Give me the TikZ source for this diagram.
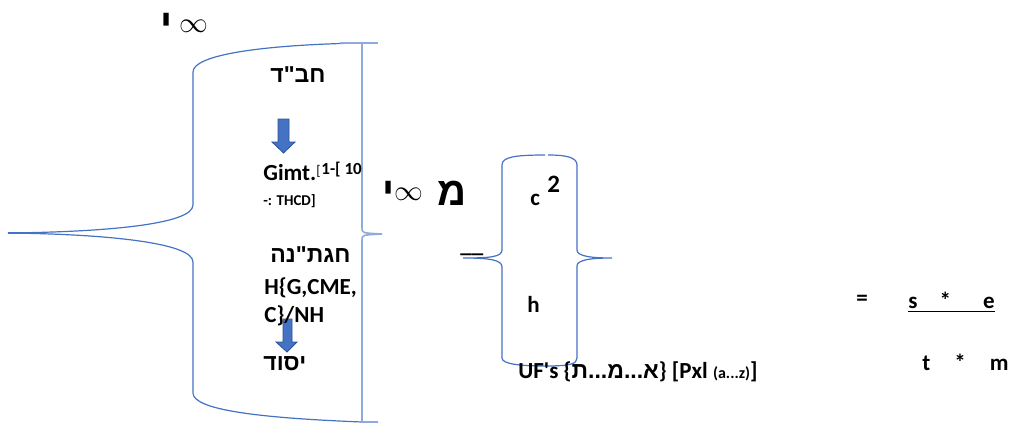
\documentclass[tikz,border=0pt]{standalone}
\usepackage{fontspec}
\setmainfont{Carlito}
\newfontfamily\hebfont[Script=Hebrew]{Liberation Sans}
\TeXXeTstate=1
\definecolor{braceblue}{HTML}{4472C4}
\definecolor{barblue}{HTML}{8FAADC}
\definecolor{arrowedge}{HTML}{2F528F}
\tikzset{
  txt/.style={anchor=base west, inner sep=0pt, font=\fontsize{11.5}{13}\selectfont\bfseries},
  heb/.style={anchor=base west, inner sep=0pt, font=\fontsize{11.5}{13}\selectfont\hebfont\bfseries},
  bigheb/.style={anchor=base west, inner sep=0pt, font=\fontsize{20}{22}\selectfont\hebfont\bfseries},
  inf/.style={anchor=center, inner sep=0pt, font=\fontsize{15}{16}\selectfont},
  brace/.style={draw=braceblue, line width=0.6pt},
  bar/.style={draw=barblue, line width=0.8pt},
  blockarrow/.style={fill=braceblue, draw=arrowedge, line width=0.4pt}
}
\begin{document}
\begin{tikzpicture}[x=0.5pt,y=-0.5pt]
\useasboundingbox (0,0) rectangle (1013,424);

% big brace on the left
\draw[brace] (360,43) .. controls (260,45) and (193,55) .. (193,72) -- (193,205)
  .. controls (193,225) and (100,232) .. (8,233)
  .. controls (100,234) and (193,242) .. (193,262) -- (193,393)
  .. controls (193,410) and (260,418) .. (362,422);
\draw[brace] (8,233) -- (45,233);
% its closing bar
\draw[bar] (340,43) -- (378,43);
\draw[bar] (362,43) -- (362,228) .. controls (362,233) .. (382,234)
  .. controls (362,235) .. (362,240) -- (362,422) -- (378,422);

% small brace pair
\draw[brace] (545,155) .. controls (515,155) and (502,157) .. (502,165) -- (502,250)
  .. controls (502,257) and (490,258) .. (463,258)
  .. controls (490,258) and (502,260) .. (502,267) -- (502,358)
  .. controls (502,364) and (520,366) .. (545,366)
  .. controls (570,366) and (577,364) .. (577,358) -- (577,266)
  .. controls (577,260) and (590,258) .. (612,258)
  .. controls (590,258) and (577,256) .. (577,250) -- (577,165)
  .. controls (577,157) and (565,155) .. (548,155);

% block arrows
\filldraw[blockarrow] (278,119) -- (289,119) -- (289,142) -- (295,142) -- (283.5,153)
  -- (272,142) -- (278,142) -- cycle;
\filldraw[blockarrow] (283,319) -- (292,319) -- (292,342) -- (297,342) -- (287,352)
  -- (276,342) -- (283,342) -- cycle;

% top label
\node[bigheb] (yodtop) at (160,37) {\beginR י\endR};
\node[inf] (inftop) at (194,26) {$\infty$};

% left column
\node[heb] (chabad) at (270,82) {\beginR חב"ד\endR};
\node[txt] (gimt) at (263,180) {Gimt.};
\node[txt, font=\fontsize{7}{8}\selectfont] (gimtsupa) at (316,175) {[};
\node[txt, font=\fontsize{8.5}{9}\selectfont\bfseries] (gimtsupb) at (321,174) {1-[ 10};
\node[txt, font=\fontsize{7.5}{8}\selectfont\bfseries] (thcd) at (263,205) {-: THCD]};
\node[heb] (chagat) at (270,262) {\beginR חגת"נה\endR};
\node[txt] (hgcme) at (264,294) {H\{G,CME,};
\node[txt] (cnh) at (264,322) {C\}/NH};
\node[heb] (yesod) at (263,370) {\beginR יסוד\endR};

% middle label
\node[bigheb] (yodmid) at (382,205) {\beginR י\endR};
\node[inf] (infmid) at (409,194) {$\infty$};
\node[bigheb] (mem) at (437,205) {\beginR מ\endR};
\node[txt] (dash) at (460,252) {\_\_};

% small brace contents
\node[txt] (c) at (530,205) {c};
\node[txt, font=\fontsize{12.5}{13}\selectfont\bfseries] (two) at (547,192) {2};
\node[txt] (h) at (527,312) {h};
\node[txt] (ufs) at (518,378) {UF\textquotesingle s \{{\hebfont\beginR א...מ...ת\endR}\} [Pxl {\fontsize{8}{9}\selectfont(a...z)}]};

% right formula
\node[txt] (eq) at (856,305) {=};
\node[txt] (num) at (908,308) {\underline{s\hspace{11pt}*\hspace{16pt}e}};
\node[txt] (den) at (922,370) {t\hspace{12pt}*\hspace{12pt}m};
\end{tikzpicture}
\end{document}
